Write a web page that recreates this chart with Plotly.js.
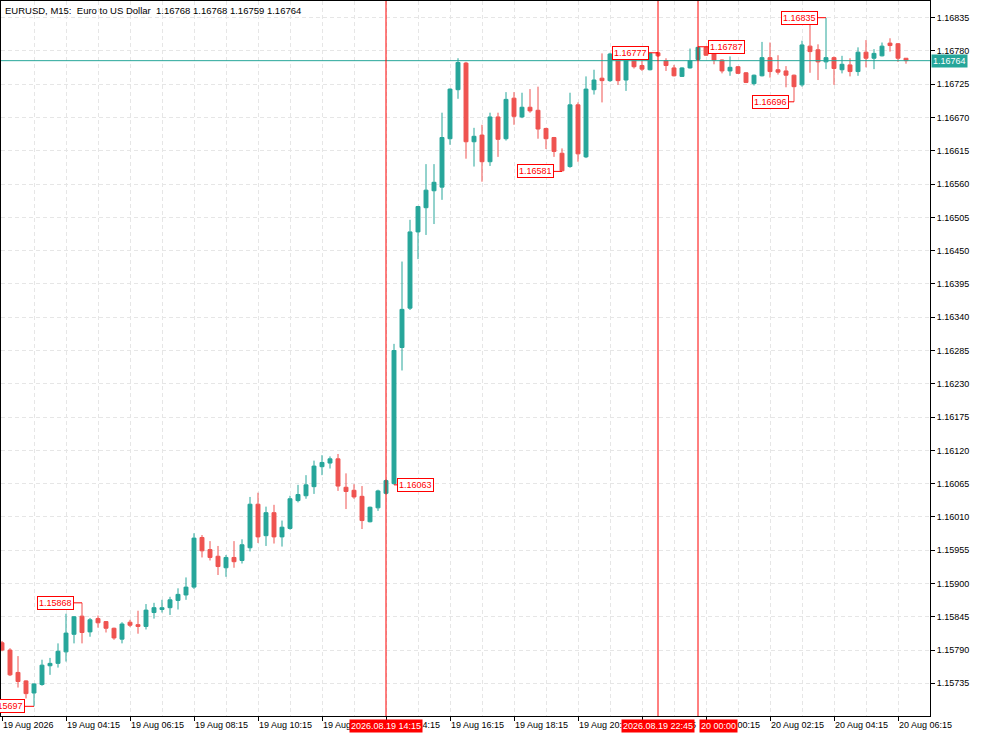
<!DOCTYPE html>
<html>
<head>
<meta charset="utf-8">
<script src="https://cdn.plot.ly/plotly-3.0.1.min.js"></script>
<style>
html,body{margin:0;padding:0;background:#fff;}
#chart{width:983px;height:737px;}
</style>
</head>
<body>
<div id="chart"></div>
<script>
// ---- data (EURUSD M15, 19 Aug 2026 02:15 .. 20 Aug 2026 06:30) ----
const startTime = '2026-08-19 02:15';
const barMinutes = 15;

const open = [
1.15802,1.15790,1.15753,1.15739,1.15719,1.15733,1.15764,1.15768,1.15787,1.15816,
1.15846,1.15820,1.15842,1.15837,1.15826,1.15808,1.15836,1.15832,1.15829,1.15852,
1.15857,1.15860,1.15872,1.15881,1.15894,1.15976,1.15956,1.15945,1.15926,1.15943,
1.15938,1.15959,1.16031,1.15979,1.16017,1.15977,1.15991,1.16037,1.16045,1.16060,
1.16093,1.16099,1.16106,1.16059,1.16054,1.16044,1.16002,1.16025,1.16049,1.16065,
1.16290,1.16355,1.16481,1.16521,1.16549,1.16555,1.16635,1.16716,1.16760,1.16630,
1.16641,1.16597,1.16671,1.16635,1.16702,1.16671,1.16687,1.16682,1.16652,1.16637,
1.16611,1.16589,1.16691,1.16605,1.16716,1.16735,1.16731,1.16776,1.16732,1.16767,
1.16756,1.16749,1.16777,1.16764,1.16752,1.16738,1.16752,1.16766,1.16786,1.16779,
1.16765,1.16747,1.16754,1.16744,1.16726,1.16739,1.16769,1.16749,1.16747,1.16740,
1.16724,1.16788,1.16782,1.16762,1.16769,1.16749,1.16757,1.16746,1.16778,1.16768,
1.16772,1.16793,1.16792,1.16768];
const high = [
1.15805,1.15793,1.15780,1.15740,1.15735,1.15774,1.15777,1.15801,1.15850,1.15846,
1.15868,1.15843,1.15847,1.15838,1.15827,1.15836,1.15840,1.15855,1.15866,1.15868,
1.15873,1.15878,1.15892,1.15910,1.15983,1.15980,1.15970,1.15962,1.15947,1.15970,
1.15973,1.16043,1.16050,1.16027,1.16030,1.16004,1.16045,1.16063,1.16079,1.16103,
1.16112,1.16110,1.16114,1.16082,1.16064,1.16061,1.16027,1.16055,1.16072,1.16296,
1.16432,1.16501,1.16524,1.16593,1.16593,1.16678,1.16718,1.16768,1.16762,1.16653,
1.16658,1.16678,1.16678,1.16712,1.16712,1.16711,1.16717,1.16721,1.16653,1.16638,
1.16619,1.16711,1.16695,1.16738,1.16749,1.16776,1.16777,1.16777,1.16768,1.16768,
1.16766,1.16777,1.16777,1.16768,1.16757,1.16753,1.16784,1.16787,1.16787,1.16781,
1.16766,1.16771,1.16755,1.16745,1.16741,1.16795,1.16794,1.16773,1.16755,1.16741,
1.16797,1.16826,1.16791,1.16835,1.16771,1.16772,1.16768,1.16786,1.16798,1.16783,
1.16794,1.16801,1.16793,1.16768];
const low = [
1.15788,1.15747,1.15728,1.15710,1.15697,1.15731,1.15749,1.15761,1.15771,1.15801,
1.15801,1.15812,1.15827,1.15819,1.15807,1.15801,1.15828,1.15817,1.15824,1.15842,
1.15852,1.15848,1.15857,1.15873,1.15891,1.15943,1.15938,1.15914,1.15911,1.15926,
1.15933,1.15953,1.15967,1.15962,1.15966,1.15961,1.15989,1.16034,1.16040,1.16048,
1.16079,1.16090,1.16053,1.16023,1.16040,1.15990,1.16001,1.16020,1.16047,1.16063,
1.16252,1.16352,1.16436,1.16476,1.16494,1.16534,1.16625,1.16701,1.16602,1.16589,
1.16564,1.16590,1.16605,1.16632,1.16658,1.16669,1.16678,1.16635,1.16618,1.16605,
1.16581,1.16587,1.16597,1.16603,1.16708,1.16695,1.16729,1.16724,1.16714,1.16751,
1.16747,1.16748,1.16770,1.16747,1.16738,1.16737,1.16751,1.16765,1.16772,1.16758,
1.16743,1.16739,1.16742,1.16727,1.16723,1.16738,1.16736,1.16741,1.16720,1.16696,
1.16721,1.16744,1.16732,1.16750,1.16724,1.16743,1.16738,1.16739,1.16753,1.16750,
1.16771,1.16779,1.16762,1.16759];
const close = [
1.15790,1.15749,1.15738,1.15718,1.15734,1.15765,1.15768,1.15788,1.15818,1.15845,
1.15819,1.15840,1.15835,1.15826,1.15810,1.15833,1.15831,1.15829,1.15856,1.15860,
1.15860,1.15873,1.15882,1.15894,1.15975,1.15954,1.15943,1.15928,1.15943,1.15936,
1.15964,1.16031,1.15977,1.16017,1.15977,1.15993,1.16040,1.16047,1.16063,1.16094,
1.16100,1.16106,1.16061,1.16052,1.16043,1.16004,1.16026,1.16053,1.16070,1.16285,
1.16353,1.16481,1.16523,1.16550,1.16563,1.16637,1.16717,1.16761,1.16630,1.16639,
1.16597,1.16671,1.16634,1.16700,1.16672,1.16687,1.16681,1.16651,1.16635,1.16614,
1.16582,1.16691,1.16610,1.16717,1.16732,1.16731,1.16775,1.16731,1.16766,1.16754,
1.16750,1.16776,1.16772,1.16756,1.16739,1.16752,1.16764,1.16786,1.16773,1.16765,
1.16747,1.16753,1.16743,1.16728,1.16740,1.16769,1.16746,1.16745,1.16740,1.16721,
1.16790,1.16779,1.16762,1.16769,1.16751,1.16758,1.16746,1.16778,1.16768,1.16776,
1.16788,1.16789,1.16768,1.16764];

const tickTimes = ['2026-08-19 02:15','2026-08-19 04:15','2026-08-19 06:15','2026-08-19 08:15',
 '2026-08-19 10:15','2026-08-19 12:15','2026-08-19 14:15','2026-08-19 16:15','2026-08-19 18:15',
 '2026-08-19 20:15','2026-08-19 22:15','2026-08-20 00:15','2026-08-20 02:15','2026-08-20 04:15',
 '2026-08-20 06:15'];
const tickLabels = ['19 Aug 2026','19 Aug 04:15','19 Aug 06:15','19 Aug 08:15','19 Aug 10:15',
 '19 Aug 12:15','19 Aug 14:15','19 Aug 16:15','19 Aug 18:15','19 Aug 20:15','19 Aug 22:15',
 '20 Aug 00:15','20 Aug 02:15','20 Aug 04:15','20 Aug 06:15'];

// vertical event lines (bar index) and their axis labels
const eventBars = [48, 82, 87];
const eventLabels = ['2026.08.19 14:15', '2026.08.19 22:45', '20 00:00'];
const eventAnchor = ['center', 'center', 'left'];

// swing labels: bar index, which price, box offset (px)
const swingBars = [10, 4, 49, 70, 82, 87, 103, 99];
const swingKind = ['H', 'L', 'L', 'L', 'H', 'H', 'H', 'L'];
const swingOffset = [-27, -28, 21, -27, -28, 28, -27, -24];

const headerText = 'EURUSD, M15:  Euro to US Dollar  1.16768 1.16768 1.16759 1.16764';

// ---- build ----
function pad(n){return (n<10?'0':'')+n;}
function fmt(ms){const d=new Date(ms);return d.getUTCFullYear()+'-'+pad(d.getUTCMonth()+1)+'-'+pad(d.getUTCDate())+' '+pad(d.getUTCHours())+':'+pad(d.getUTCMinutes())+':'+pad(d.getUTCSeconds());}
const t0 = Date.UTC(2026,7,19,2,15);
const times = open.map((_,i)=>fmt(t0 + i*barMinutes*60000));

const TEAL = '#26a69a', RED = '#ef5350', LINE_RED = '#ff0000';
const FONT = 'Liberation Sans, Arial, sans-serif';

const pxSec = barMinutes*60/8; // seconds per pixel (8 px per bar)
const xRange = [fmt(t0 - 1*pxSec*1000), fmt(t0 + (open.length-1)*barMinutes*60000 + 24*pxSec*1000)];

const trace = {
  type:'candlestick', x:times, open:open, high:high, low:low, close:close,
  increasing:{line:{color:TEAL,width:1},fillcolor:TEAL},
  decreasing:{line:{color:RED,width:1},fillcolor:RED},
  whiskerwidth:0, hoverinfo:'skip', showlegend:false
};

const last = close[close.length-1];
const shapes = [
  {type:'line', xref:'paper', x0:0, x1:1, yref:'y', y0:last, y1:last, line:{color:TEAL,width:1}}
];
eventBars.forEach(i=>shapes.push({type:'line', xref:'x', x0:times[i], x1:times[i], yref:'paper', y0:0, y1:1, line:{color:LINE_RED,width:1}}));

const annotations = [
  {xref:'paper', yref:'paper', x:0, y:1, xanchor:'left', yanchor:'top', xshift:2, yshift:-2,
   text:headerText, showarrow:false, font:{family:FONT,size:9.5,color:'#000'}},
  {xref:'paper', yref:'y', x:1, y:last, xanchor:'left', yanchor:'middle', xshift:1,
   text:last.toFixed(5), showarrow:false, bgcolor:TEAL, borderpad:1, font:{family:FONT,size:9,color:'#fff'}}
];
eventBars.forEach((i,k)=>annotations.push({xref:'x', yref:'paper', x:times[i], y:0, xanchor:eventAnchor[k], yanchor:'top', yshift:-3,
  xshift: eventAnchor[k]==='left' ? 1 : 0,
  text:eventLabels[k], showarrow:false, bgcolor:LINE_RED, borderpad:1, font:{family:FONT,size:9,color:'#fff'}}));
swingBars.forEach((i,k)=>{
  const v = swingKind[k]==='H' ? high[i] : low[i];
  annotations.push({xref:'x', yref:'y', x:times[i], y:v, ax:swingOffset[k], ay:0, showarrow:true, arrowhead:0,
    arrowwidth:1, arrowcolor:LINE_RED, standoff:0, text:v.toFixed(5), bgcolor:'#fff', bordercolor:LINE_RED,
    borderwidth:1, borderpad:1, font:{family:FONT,size:9,color:LINE_RED}});
});

const GRID = '#e6e6e6';
const layout = {
  width:983, height:737,
  margin:{l:1, r:53, t:1, b:21},
  paper_bgcolor:'#fff', plot_bgcolor:'#fff',
  font:{family:FONT, size:9, color:'#000'},
  hovermode:false, showlegend:false, dragmode:false,
  xaxis:{type:'date', range:xRange, rangeslider:{visible:false},
    tickmode:'array', tickvals:tickTimes, ticktext:tickLabels, ticklabelposition:'outside right',
    ticks:'outside', ticklen:4, tickcolor:'#000', tickfont:{family:FONT,size:9,color:'#000'},
    showgrid:true, gridcolor:GRID, griddash:'4px,3px',
    minor:{tickmode:'linear', tick0:'2026-08-19 01:15', dtick:3600000, showgrid:true, gridcolor:GRID, griddash:'4px,3px', ticks:''},
    showline:true, linecolor:'#000', linewidth:1, mirror:true, zeroline:false, fixedrange:true},
  yaxis:{side:'right', range:[1.156810, 1.168626], tickmode:'linear', tick0:1.15735, dtick:0.00055,
    tickformat:'.5f', ticks:'outside', ticklen:4, tickcolor:'#000', tickfont:{family:FONT,size:9,color:'#000'},
    showgrid:true, gridcolor:GRID, griddash:'4px,3px',
    showline:true, linecolor:'#000', linewidth:1, mirror:true, zeroline:false, fixedrange:true},
  shapes:shapes, annotations:annotations
};

Plotly.newPlot('chart', [trace], layout, {displayModeBar:false, staticPlot:true});
</script>
</body>
</html>
